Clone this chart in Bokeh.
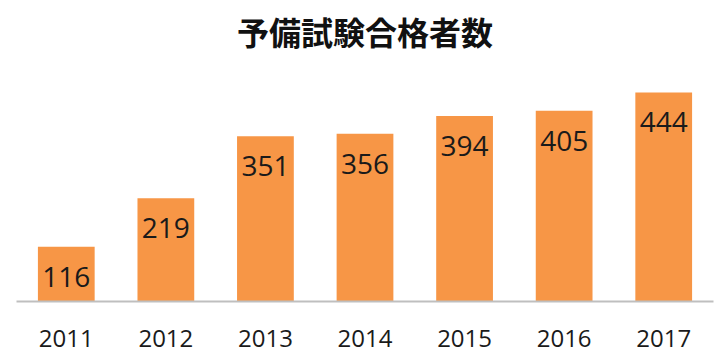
from bokeh.plotting import figure
from bokeh.models import FactorRange, Range1d, ColumnDataSource, LabelSet
from bokeh.core.properties import value
from bokeh.embed import file_html
from bokeh.resources import INLINE

years = ["2011", "2012", "2013", "2014", "2015", "2016", "2017"]
passers = [116, 219, 351, 356, 394, 405, 444]
title_text = "予備試験合格者数"

src = ColumnDataSource(dict(year=years, n=passers, label=[str(v) for v in passers]))

p = figure(width=720, height=360,
           x_range=FactorRange(*years, range_padding=0),
           y_range=Range1d(0, 516),
           output_backend="svg", toolbar_location=None,
           min_border_left=16, min_border_right=7,
           min_border_top=58, min_border_bottom=59)

p.vbar(x="year", top="n", width=0.57, source=src, color="#F79646", line_color=None)

labels = LabelSet(x="year", y="n", text="label", source=src,
                  text_align="center", text_baseline="middle",
                  y_offset=-30, text_font=value("Open Sans"),
                  text_font_size="28px", text_color="#1a1a1a")
p.add_layout(labels)

p.title.text = title_text
p.title.align = "center"
p.title.text_font = "Noto Sans CJK JP"
p.title.text_font_size = "32px"
p.title.text_font_style = "bold"
p.title.text_color = "#111111"
p.title.text_line_height = 0.85
p.title.standoff = 9

p.yaxis.visible = False
p.xgrid.grid_line_color = None
p.ygrid.grid_line_color = None
p.outline_line_color = None

ax = p.xaxis[0]
ax.axis_line_color = "#BFBFBF"
ax.axis_line_width = 2
ax.major_tick_line_color = None
ax.minor_tick_line_color = None
ax.major_label_text_font = "Open Sans"
ax.major_label_text_font_size = "24px"
ax.major_label_text_color = "#1a1a1a"
ax.major_label_standoff = 22

open("out.html", "w").write(file_html(p, INLINE))
